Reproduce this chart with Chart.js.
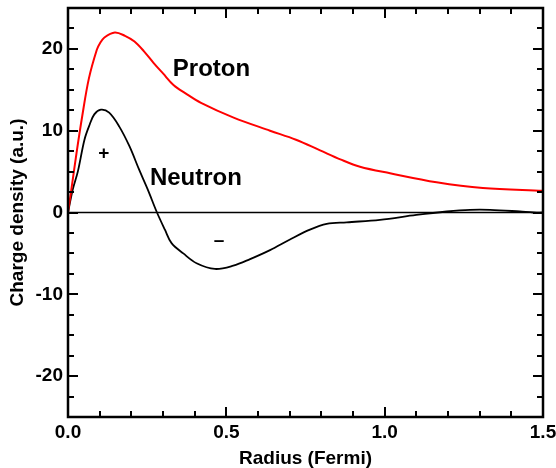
<!DOCTYPE html>
<html>
<head>
<meta charset="utf-8">
<script src="https://cdn.jsdelivr.net/npm/chart.js@4/dist/chart.umd.min.js"></script>
<style>
html,body{margin:0;padding:0;background:#fff;}
#wrap{width:556px;height:468px;}
</style>
</head>
<body>
<div id="wrap"><canvas id="c" width="556" height="468"></canvas></div>
<script>
// ---- data ----
const protonR   = [0, 0.012, 0.027, 0.045, 0.066, 0.091, 0.101, 0.115, 0.148, 0.18, 0.21, 0.24, 0.27, 0.30, 0.333, 0.37, 0.42, 0.523, 0.638, 0.72, 0.796, 0.86, 0.922, 1.017, 1.164, 1.31, 1.5];
const protonRho = [0, 3.2, 7.3, 11.8, 16.4, 19.9, 20.7, 21.4, 22.0, 21.6, 20.9, 19.7, 18.3, 17.0, 15.6, 14.6, 13.4, 11.6, 10.0, 8.9, 7.6, 6.5, 5.6, 4.8, 3.7, 3.0, 2.65];

const neutronR   = [0, 0.015, 0.031, 0.052, 0.068, 0.083, 0.104, 0.13, 0.162, 0.194, 0.225, 0.252, 0.281, 0.306, 0.327, 0.364, 0.406, 0.464, 0.522, 0.575, 0.638, 0.701, 0.764, 0.817, 0.88, 0.985, 1.1, 1.196, 1.27, 1.333, 1.427, 1.47, 1.5];
const neutronRho = [0, 2.8, 5.0, 8.9, 10.7, 12.0, 12.57, 12.2, 10.5, 8.1, 5.2, 2.8, 0, -2.1, -3.75, -5.0, -6.2, -6.9, -6.5, -5.7, -4.6, -3.3, -2.1, -1.4, -1.2, -0.9, -0.3, 0.12, 0.33, 0.33, 0.12, 0.0, 0.0];

const xTicks = [0, 0.5, 1.0, 1.5];
const yTicks = [-20, -10, 0, 10, 20];
const xMinorStep = 0.1;
const yMinorStep = 2.5;

const labels = [
  {text: 'Proton',  x: 0.453, y: 17.5},
  {text: 'Neutron', x: 0.404, y: 4.2},
  {text: '+',       x: 0.113, y: 7.2},
  {text: '\u2013',  x: 0.477, y: -3.5}
];

const FONT = '"Liberation Sans", Arial, sans-serif';

function toXY(xs, ys){ return xs.map((x,i)=>({x:x, y:ys[i]})); }

const framePlugin = {
  id: 'frame',
  beforeDatasetsDraw(chart){
    const {ctx, scales:{x, y}} = chart;
    ctx.save();
    ctx.strokeStyle = '#000';
    ctx.lineWidth = 1.5;
    ctx.beginPath();
    ctx.moveTo(x.getPixelForValue(x.min), y.getPixelForValue(0));
    ctx.lineTo(x.getPixelForValue(x.max), y.getPixelForValue(0));
    ctx.stroke();
    ctx.restore();
  },
  afterDatasetsDraw(chart){
    const {ctx, chartArea:a, scales:{x, y}} = chart;
    ctx.save();
    ctx.strokeStyle = '#000';
    ctx.lineWidth = 2;
    const nx = Math.round((x.max - x.min)/xMinorStep);
    for (let i=0;i<=nx;i++){
      const v = x.min + i*xMinorStep;
      const major = xTicks.some(t=>Math.abs(t-v)<1e-6);
      const len = major ? 10 : 6;
      const px = Math.round(x.getPixelForValue(v));
      ctx.beginPath();
      ctx.moveTo(px, a.bottom); ctx.lineTo(px, a.bottom-len);
      ctx.moveTo(px, a.top); ctx.lineTo(px, a.top+len);
      ctx.stroke();
    }
    const ny = Math.round((y.max - y.min)/yMinorStep);
    for (let i=0;i<=ny;i++){
      const v = y.min + i*yMinorStep;
      const major = yTicks.some(t=>Math.abs(t-v)<1e-6);
      const len = major ? 10 : 6;
      const py = Math.round(y.getPixelForValue(v));
      ctx.beginPath();
      ctx.moveTo(a.left, py); ctx.lineTo(a.left+len, py);
      ctx.moveTo(a.right, py); ctx.lineTo(a.right-len, py);
      ctx.stroke();
    }
    ctx.lineWidth = 2.5;
    ctx.strokeRect(a.left, a.top, a.right-a.left, a.bottom-a.top);
    ctx.fillStyle = '#000';
    ctx.textAlign = 'center';
    ctx.textBaseline = 'middle';
    labels.forEach(l=>{
      const big = l.text.length > 1;
      ctx.font = 'bold ' + (big ? 24 : 19) + 'px ' + FONT;
      ctx.fillText(l.text, x.getPixelForValue(l.x), y.getPixelForValue(l.y));
    });
    ctx.restore();
  }
};

new Chart(document.getElementById('c'), {
  type: 'scatter',
  data: {
    datasets: [
      {
        label: 'Proton',
        data: toXY(protonR, protonRho),
        showLine: true,
        borderColor: '#ff0000',
        borderWidth: 2,
        pointRadius: 0,
        fill: false,
        tension: 0.35
      },
      {
        label: 'Neutron',
        data: toXY(neutronR, neutronRho),
        showLine: true,
        borderColor: '#000000',
        borderWidth: 1.8,
        pointRadius: 0,
        fill: false,
        tension: 0.35
      }
    ]
  },
  options: {
    responsive: false,
    animation: false,
    devicePixelRatio: 1,
    layout: { padding: { top: 8, right: 13, left: 0, bottom: 0 } },
    plugins: { legend: { display: false }, tooltip: { enabled: false } },
    scales: {
      x: {
        type: 'linear',
        min: 0, max: 1.5,
        afterFit(s){ s.height = 51; s.paddingLeft = 0; s.paddingRight = 0; },
        afterBuildTicks(s){ s.ticks = xTicks.map(v=>({value:v})); },
        grid: { display: false, drawTicks: false },
        border: { display: false },
        ticks: {
          color: '#000',
          font: { family: FONT, size: 19, weight: 'bold' },
          padding: 4,
          maxRotation: 0,
          callback: v => Number(v).toFixed(1)
        },
        title: {
          display: true,
          text: 'Radius (Fermi)',
          color: '#000',
          font: { family: FONT, size: 19, weight: 'bold', lineHeight: 1 },
          padding: { top: 0, bottom: 0 }
        }
      },
      y: {
        type: 'linear',
        min: -25, max: 25,
        afterFit(s){ s.width = 68; s.paddingTop = 0; s.paddingBottom = 0; },
        afterBuildTicks(s){ s.ticks = yTicks.map(v=>({value:v})); },
        grid: { display: false, drawTicks: false },
        border: { display: false },
        ticks: {
          color: '#000',
          font: { family: FONT, size: 19, weight: 'bold' },
          padding: 5,
          callback: v => String(v)
        },
        title: {
          display: true,
          text: 'Charge density (a.u.)',
          color: '#000',
          font: { family: FONT, size: 19, weight: 'bold', lineHeight: 1 },
          padding: { top: 8, bottom: 0 }
        }
      }
    }
  },
  plugins: [framePlugin]
});
</script>
</body>
</html>
